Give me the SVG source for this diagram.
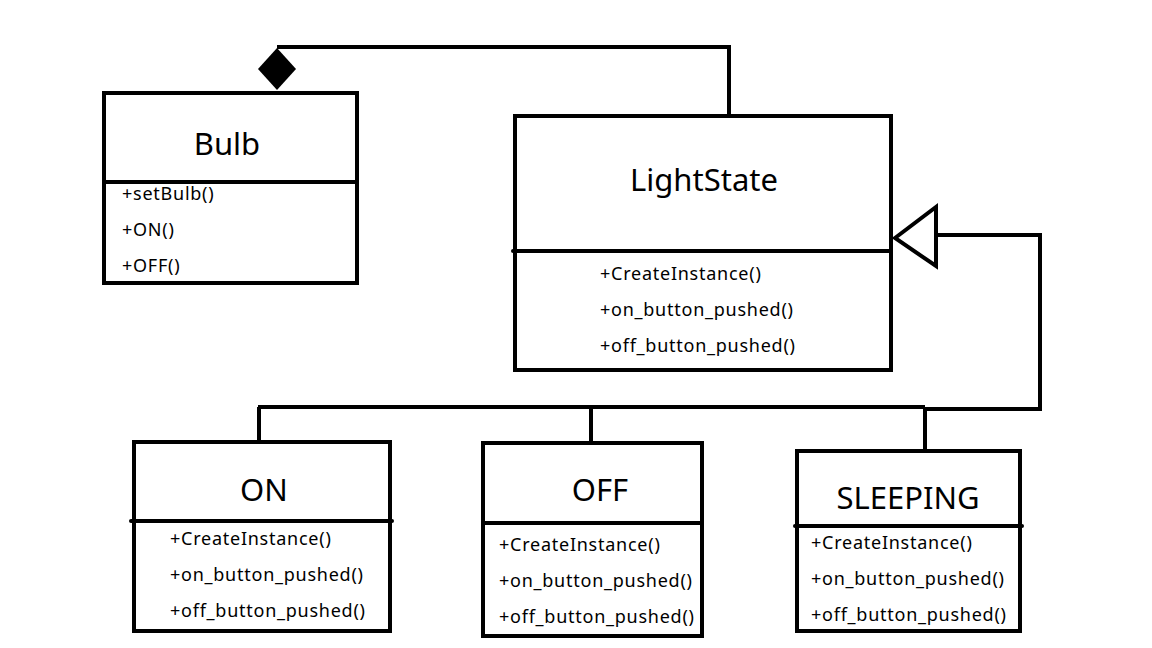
<svg xmlns="http://www.w3.org/2000/svg" width="1152" height="648" viewBox="0 0 1152 648">
<style>
.box{fill:#fff;stroke:#000;stroke-width:4}
.div{stroke:#000;stroke-width:4;stroke-linecap:round}
.conn{fill:none;stroke:#000;stroke-width:4;stroke-linejoin:miter}
.title{font-family:"Noto Sans","Open Sans","Liberation Sans",sans-serif;font-size:31px;fill:#000;text-anchor:middle}
.item{font-family:"Noto Sans","Open Sans","Liberation Sans",sans-serif;font-size:18px;letter-spacing:0.75px;fill:#000}
</style>
<rect width="1152" height="648" fill="#fff"/>
<g id="connectors">
<polyline class="conn" points="277,47 729,47 729,115"/>
<polygon points="277,48 296,69 277,90 258,69" fill="#000"/>
<polyline class="conn" points="936,235 1040,235 1040,409 925,409"/>
<polyline class="conn" points="258,407 925,407"/>
<polygon points="895,238 936,207 936,266" fill="#fff" stroke="#000" stroke-width="4" stroke-linejoin="miter"/>
<line class="conn" x1="259" y1="407" x2="259" y2="442"/>
<line class="conn" x1="591" y1="407" x2="591" y2="443"/>
<line class="conn" x1="925" y1="407" x2="925" y2="451"/>
</g>
<g id="Bulb">
<rect class="box" x="104" y="93" width="253" height="190"/>
<line class="div" x1="104" y1="182" x2="357" y2="182"/>
<text class="title" x="227" y="155">Bulb</text>
<text class="item" x="122" y="200">+setBulb()</text>
<text class="item" x="122" y="236">+ON()</text>
<text class="item" x="122" y="272">+OFF()</text>
</g>
<g id="LightState">
<rect class="box" x="515" y="116" width="376" height="254"/>
<line class="div" x1="513" y1="251" x2="891" y2="251"/>
<text class="title" x="704" y="191">LightState</text>
<text class="item" x="600" y="280">+CreateInstance()</text>
<text class="item" x="600" y="316">+on_button_pushed()</text>
<text class="item" x="600" y="352">+off_button_pushed()</text>
</g>
<g id="ON">
<rect class="box" x="134" y="442" width="256" height="189"/>
<line class="div" x1="131" y1="521" x2="392" y2="521"/>
<text class="title" x="264" y="501">ON</text>
<text class="item" x="170" y="545">+CreateInstance()</text>
<text class="item" x="170" y="581">+on_button_pushed()</text>
<text class="item" x="170" y="617">+off_button_pushed()</text>
</g>
<g id="OFF">
<rect class="box" x="483" y="443" width="219" height="193"/>
<line class="div" x1="483" y1="523" x2="702" y2="523"/>
<text class="title" x="600" y="501">OFF</text>
<text class="item" x="499" y="551">+CreateInstance()</text>
<text class="item" x="499" y="587">+on_button_pushed()</text>
<text class="item" x="499" y="623">+off_button_pushed()</text>
</g>
<g id="SLEEPING">
<rect class="box" x="797" y="451" width="223" height="180"/>
<line class="div" x1="795" y1="526" x2="1022" y2="526"/>
<text class="title" x="908" y="509">SLEEPING</text>
<text class="item" x="811" y="549">+CreateInstance()</text>
<text class="item" x="811" y="585">+on_button_pushed()</text>
<text class="item" x="811" y="621">+off_button_pushed()</text>
</g>
</svg>
